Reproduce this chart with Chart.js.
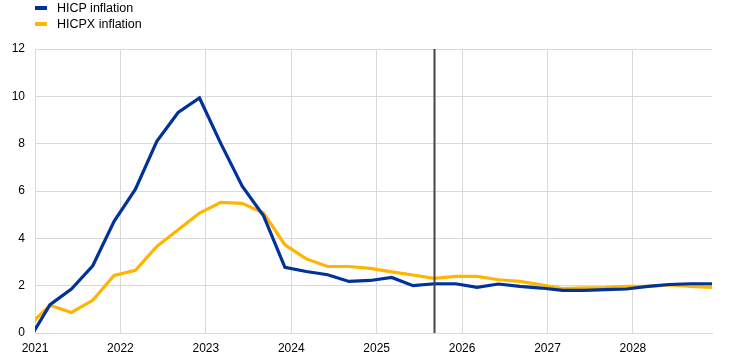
<!DOCTYPE html>
<html>
<head>
<meta charset="utf-8">
<script src="https://cdn.jsdelivr.net/npm/chart.js@4"></script>
<style>
  body { margin: 0; background: #fff; font-family: "Liberation Sans", Arial, sans-serif; }
  #wrap { position: relative; width: 740px; height: 360px; }
  #legend { position: absolute; left: 35px; top: 0; font-size: 12.5px; color: #000; }
  .item { display: flex; align-items: center; height: 16px; }
  .swatch { width: 12px; height: 4px; margin-right: 10px; }
</style>
</head>
<body>
<div id="wrap">
  <canvas id="chart" width="740" height="360"></canvas>
  <div id="legend"></div>
</div>
<script>
// quarterly data, 2020Q4 - 2028Q4
const quarters = ['2020Q4',
  '2021Q1','2021Q2','2021Q3','2021Q4',
  '2022Q1','2022Q2','2022Q3','2022Q4',
  '2023Q1','2023Q2','2023Q3','2023Q4',
  '2024Q1','2024Q2','2024Q3','2024Q4',
  '2025Q1','2025Q2','2025Q3','2025Q4',
  '2026Q1','2026Q2','2026Q3','2026Q4',
  '2027Q1','2027Q2','2027Q3','2027Q4',
  '2028Q1','2028Q2','2028Q3','2028Q4'];

const hicp = [-0.3,
  1.2, 1.86, 2.84, 4.72,
  6.08, 8.1, 9.32, 9.93,
  8.0, 6.2, 4.95, 2.77,
  2.6, 2.46, 2.18, 2.22,
  2.35, 2.0, 2.08, 2.08,
  1.93, 2.07, 1.97, 1.9,
  1.8, 1.8, 1.83, 1.86,
  1.97, 2.05, 2.08, 2.08];

const hicpx = [0.3,
  1.17, 0.87, 1.38, 2.43,
  2.65, 3.66, 4.36, 5.07,
  5.52, 5.48, 5.07, 3.73,
  3.13, 2.81, 2.81, 2.73,
  2.58, 2.45, 2.31, 2.39,
  2.39, 2.25, 2.18, 2.04,
  1.88, 1.91, 1.92, 1.97,
  1.97, 2.03, 1.97, 1.93];

const seriesNames = ['HICP inflation', 'HICPX inflation'];
const seriesColors = ['#003299', '#FFB400'];
const yearTicks = [2021, 2022, 2023, 2024, 2025, 2026, 2027, 2028];
const projectionStart = '2025Q3';

// quarter label -> position on the year axis
function qx(label) {
  const y = parseInt(label.slice(0, 4));
  const q = parseInt(label.slice(5));
  return y + (q - 1) * 0.25 + 0.176;
}

const toPoints = vals => vals.map((v, i) => ({ x: qx(quarters[i]), y: v }));

const projLine = {
  id: 'projLine',
  afterDatasetsDraw(chart) {
    const { ctx, chartArea, scales } = chart;
    const x = Math.round(scales.x.getPixelForValue(qx(projectionStart))) + 0.5;
    ctx.save();
    ctx.strokeStyle = '#444444';
    ctx.lineWidth = 2;
    ctx.beginPath();
    ctx.moveTo(x, chartArea.top);
    ctx.lineTo(x, chartArea.bottom);
    ctx.stroke();
    ctx.restore();
  }
};

const legend = document.getElementById('legend');
seriesNames.forEach((n, i) => {
  legend.innerHTML += `<div class="item"><span class="swatch" style="background:${seriesColors[i]}"></span>${n}</div>`;
});

const tickFont = { family: '"Liberation Sans", Arial, sans-serif', size: 12 };

new Chart(document.getElementById('chart'), {
  type: 'line',
  data: {
    datasets: [
      { label: seriesNames[0], data: toPoints(hicp), borderColor: seriesColors[0], borderWidth: 3.2, pointRadius: 0, tension: 0 },
      { label: seriesNames[1], data: toPoints(hicpx), borderColor: seriesColors[1], borderWidth: 3.2, pointRadius: 0, tension: 0 }
    ]
  },
  options: {
    responsive: false,
    animation: false,
    layout: { padding: { top: 49, right: 28, left: 0, bottom: 0 } },
    plugins: { legend: { display: false }, tooltip: { enabled: false } },
    scales: {
      x: {
        type: 'linear',
        min: 2021,
        max: qx(quarters[quarters.length - 1]),
        afterBuildTicks: s => { s.ticks = yearTicks.map(v => ({ value: v })); },
        afterFit: s => { s.height = 27; },
        ticks: { color: '#000', font: tickFont, padding: 8, maxRotation: 0, callback: v => String(v) },
        grid: { color: '#d9d9d9', drawTicks: false },
        border: { color: '#d9d9d9' }
      },
      y: {
        min: 0,
        max: 12,
        ticks: { stepSize: 2, color: '#000', font: tickFont, padding: 10 },
        afterFit: s => { s.width = 35; },
        grid: { color: '#d9d9d9', drawTicks: false },
        border: { color: '#d9d9d9' }
      }
    }
  },
  plugins: [projLine]
});
</script>
</body>
</html>
